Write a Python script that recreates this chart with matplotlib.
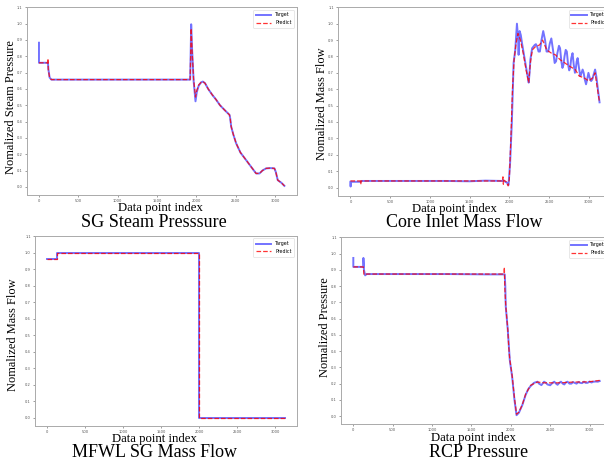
import numpy as np
import matplotlib
matplotlib.use("Agg")
import matplotlib.pyplot as plt

# (data point index, normalized value) pairs for each signal
sg_target = np.array([
    (0, 0.883), (0, 0.76), (114, 0.76), (120, 0.72), (135, 0.67), (157, 0.657),
    (600, 0.657), (1200, 0.657), (1921, 0.657), (1927, 0.80), (1934, 0.996),
    (1945, 0.85), (1965, 0.65), (1989, 0.524), (2005, 0.58), (2030, 0.62),
    (2060, 0.64), (2082, 0.645), (2110, 0.635), (2150, 0.60), (2200, 0.565),
    (2251, 0.534), (2300, 0.50), (2360, 0.47), (2421, 0.441), (2430, 0.42),
    (2442, 0.37), (2470, 0.32), (2505, 0.267), (2560, 0.21), (2632, 0.164),
    (2700, 0.12), (2759, 0.082), (2802, 0.082), (2840, 0.10), (2886, 0.113),
    (2940, 0.115), (2992, 0.113), (3010, 0.09), (3034, 0.041), (3080, 0.025),
    (3119, 0.006)])
sg_predict = np.array([
    (0, 0.76), (110, 0.76), (114, 0.785), (118, 0.72), (135, 0.67), (157, 0.657),
    (600, 0.657), (1200, 0.657), (1921, 0.657), (1927, 0.80), (1934, 0.97),
    (1945, 0.84), (1965, 0.66), (1989, 0.55), (2005, 0.59), (2030, 0.625),
    (2060, 0.64), (2082, 0.645), (2110, 0.635), (2150, 0.60), (2200, 0.565),
    (2251, 0.534), (2300, 0.50), (2360, 0.47), (2421, 0.441), (2430, 0.42),
    (2442, 0.37), (2470, 0.32), (2505, 0.267), (2560, 0.21), (2632, 0.164),
    (2700, 0.12), (2759, 0.082), (2802, 0.082), (2840, 0.10), (2886, 0.113),
    (2940, 0.115), (2992, 0.113), (3010, 0.09), (3034, 0.041), (3080, 0.025),
    (3119, 0.006)])

core_target = np.array([
    (0, 0.035), (2, 0.006), (5, 0.035), (130, 0.035), (140, 0.04), (600, 0.04),
    (1200, 0.04), (1500, 0.038), (1700, 0.042), (1910, 0.04), (1920, 0.045),
    (1935, 0.04), (1950, 0.035), (1970, 0.03), (1990, 0.015), (2010, 0.15),
    (2032, 0.40), (2054, 0.76), (2075, 0.84), (2096, 1.0), (2110, 0.92),
    (2117, 0.81), (2124, 0.90), (2130, 0.955), (2145, 0.93), (2160, 0.88),
    (2202, 0.76), (2230, 0.68), (2244, 0.64), (2255, 0.70), (2265, 0.78),
    (2287, 0.85), (2320, 0.87), (2335, 0.875), (2351, 0.86), (2368, 0.83),
    (2385, 0.83), (2405, 0.90), (2427, 0.955), (2450, 0.90), (2469, 0.83),
    (2490, 0.83), (2510, 0.88), (2529, 0.91), (2550, 0.84), (2571, 0.76),
    (2588, 0.77), (2605, 0.82), (2625, 0.865), (2639, 0.85), (2655, 0.77),
    (2669, 0.73), (2682, 0.75), (2695, 0.80), (2710, 0.84), (2724, 0.83),
    (2740, 0.75), (2754, 0.715), (2766, 0.73), (2780, 0.79), (2796, 0.82),
    (2811, 0.75), (2826, 0.70), (2836, 0.72), (2848, 0.77), (2860, 0.79),
    (2877, 0.73), (2894, 0.68), (2910, 0.70), (2923, 0.72), (2936, 0.70),
    (2950, 0.66), (2966, 0.63), (2980, 0.66), (2996, 0.70), (3012, 0.67),
    (3030, 0.65), (3045, 0.66), (3062, 0.69), (3080, 0.72), (3095, 0.68),
    (3110, 0.62), (3136, 0.52)])
core_predict = np.array([
    (0, 0.04), (125, 0.04), (130, 0.02), (135, 0.04), (600, 0.04), (1200, 0.04),
    (1900, 0.04), (1915, 0.04), (1920, 0.065), (1925, 0.02), (1930, 0.045),
    (1960, 0.035), (1985, 0.01), (2000, 0.05), (2020, 0.30), (2040, 0.60),
    (2060, 0.78), (2085, 0.88), (2109, 0.94), (2140, 0.90), (2175, 0.82),
    (2210, 0.72), (2244, 0.64), (2265, 0.76), (2290, 0.84), (2330, 0.86),
    (2380, 0.87), (2420, 0.90), (2470, 0.84), (2530, 0.82), (2580, 0.81),
    (2640, 0.78), (2700, 0.76), (2760, 0.74), (2830, 0.72), (2880, 0.68),
    (2940, 0.67), (3000, 0.65), (3050, 0.67), (3080, 0.70), (3110, 0.60),
    (3136, 0.52)])

mfwl_target = np.array([
    (0, 0.958), (131, 0.958), (131, 1.0), (2001, 1.0), (2001, 0.0), (3127, 0.0)])
mfwl_predict = np.array([
    (0, 0.958), (131, 0.958), (131, 1.0), (2001, 1.0), (2001, 0.0), (3127, 0.0)])

rcp_target = np.array([
    (0, 0.973), (0, 0.918), (128, 0.918), (128, 0.973), (135, 0.90), (150, 0.866),
    (170, 0.874), (600, 0.874), (1200, 0.874), (1700, 0.872), (1923, 0.872),
    (1930, 0.80), (1936, 0.675), (1962, 0.53), (1987, 0.346), (2017, 0.243),
    (2047, 0.099), (2073, 0.006), (2103, 0.021), (2146, 0.068), (2188, 0.13),
    (2220, 0.165), (2252, 0.185), (2295, 0.205), (2338, 0.212), (2359, 0.20),
    (2389, 0.191), (2423, 0.212), (2446, 0.205), (2466, 0.195), (2500, 0.19),
    (2530, 0.205), (2552, 0.212), (2575, 0.20), (2594, 0.193), (2615, 0.205),
    (2637, 0.212), (2660, 0.20), (2680, 0.195), (2700, 0.208), (2720, 0.212),
    (2745, 0.20), (2770, 0.20), (2790, 0.21), (2810, 0.205), (2835, 0.20),
    (2860, 0.21), (2880, 0.205), (2905, 0.203), (2930, 0.212), (2950, 0.205),
    (2975, 0.205), (3000, 0.213), (3025, 0.207), (3050, 0.212), (3080, 0.213),
    (3105, 0.212), (3129, 0.216)])
rcp_predict = np.array([
    (0, 0.918), (128, 0.918), (135, 0.87), (150, 0.87), (170, 0.874),
    (1200, 0.874), (1915, 0.874), (1918, 0.916), (1925, 0.78), (1936, 0.68),
    (1950, 0.60), (1962, 0.53), (1975, 0.42), (1987, 0.35), (2017, 0.25),
    (2047, 0.11), (2073, 0.012), (2103, 0.025), (2146, 0.07), (2188, 0.135),
    (2252, 0.19), (2338, 0.21), (2423, 0.205), (2500, 0.205), (2600, 0.205),
    (2700, 0.207), (2800, 0.21), (2900, 0.21), (3000, 0.212), (3129, 0.22)])

W, H = 604, 461
panels = [
    # axes box in pixels (left, top, right, bottom), ylabel pos, xlabel pos, title pos
    dict(tgt=sg_target, prd=sg_predict, box=(26.7, 7.3, 296.7, 195),
         ylabel="Nomalized Steam Pressure", ylpos=(11, 107),
         xlpos=(160, 208), title="SG Steam Presssure", tpos=(154, 222)),
    dict(tgt=core_target, prd=core_predict, box=(338, 7.3, 612, 195.7),
         ylabel="Nomalized Mass Flow", ylpos=(322, 104),
         xlpos=(454, 209), title="Core Inlet Mass Flow", tpos=(464, 222)),
    dict(tgt=mfwl_target, prd=mfwl_predict, box=(35, 236, 296.7, 426),
         ylabel="Nomalized Mass Flow", ylpos=(13, 335),
         xlpos=(154, 439), title="MFWL SG Mass Flow", tpos=(155, 452)),
    dict(tgt=rcp_target, prd=rcp_predict, box=(341, 237.3, 612, 424.3),
         ylabel="Nomalized Pressure", ylpos=(325, 327),
         xlpos=(473, 438), title="RCP Pressure", tpos=(479, 452)),
]

serif = "Liberation Serif"
fig = plt.figure(figsize=(W / 100, H / 100), dpi=100)

for p in panels:
    l, t, r, b = p["box"]
    ax = fig.add_axes([l / W, 1 - b / H, (r - l) / W, (b - t) / H])
    ax.plot(p["tgt"][:, 0], p["tgt"][:, 1], color="blue", lw=1.4, alpha=0.55,
            label="Target")
    ax.plot(p["prd"][:, 0], p["prd"][:, 1], color="red", ls="--", lw=0.9,
            alpha=0.8, label="Predict")
    ax.set_ylim(-0.05, 1.1)
    ax.set_yticks(np.arange(0, 1.11, 0.1))
    ax.set_yticklabels(["%.1f" % v for v in np.arange(0, 1.11, 0.1)])
    ax.set_xticks([0, 500, 1000, 1500, 2000, 2500, 3000])
    ax.tick_params(labelsize=2.6, length=1.5, width=0.4, pad=1.5,
                   colors="#555555")
    for s in ax.spines.values():
        s.set_color("#aaaaaa")
        s.set_linewidth(0.7)
    leg = ax.legend(loc="upper right", fontsize=3.4, handlelength=3.2,
                    borderpad=0.6, labelspacing=0.6, fancybox=True)
    leg.get_frame().set_linewidth(0.4)

    fig.text(p["ylpos"][0] / W, 1 - p["ylpos"][1] / H, p["ylabel"],
             rotation=90, ha="center", va="center", family=serif, fontsize=8.9)
    fig.text(p["xlpos"][0] / W, 1 - p["xlpos"][1] / H, "Data point index",
             ha="center", va="center", family=serif, fontsize=9.2)
    fig.text(p["tpos"][0] / W, 1 - p["tpos"][1] / H, p["title"],
             ha="center", va="center", family=serif, fontsize=13)

fig.savefig("out.png", dpi=100)
